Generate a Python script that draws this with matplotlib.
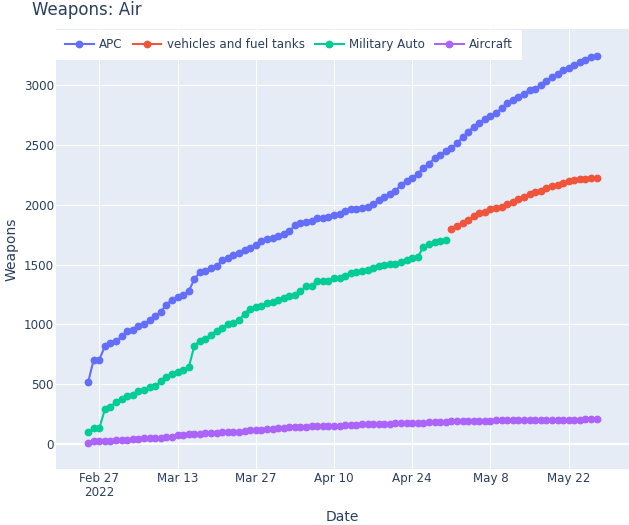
import matplotlib
matplotlib.use("Agg")
import matplotlib.pyplot as plt
import pandas as pd

# daily cumulative totals, Feb 25 - May 27 2022
start_day = "2022-02-25"

apc = [516, 706, 706, 816,
       846, 862, 900, 945, 956, 990, 1000, 1036, 1070, 1105, 1165, 1205, 1226, 1249, 1279, 1375,
       1438, 1448, 1470, 1487, 1535, 1556, 1578, 1597, 1625, 1640, 1664, 1693, 1710, 1723, 1735,
       1751, 1776, 1830, 1843, 1858, 1861, 1887, 1891, 1895, 1915, 1923, 1946, 1964, 1968, 1976,
       1982, 2002, 2041, 2063, 2088, 2118, 2162, 2200, 2225, 2258, 2308, 2342, 2389, 2418, 2445,
       2470, 2513, 2563, 2610, 2649, 2686, 2713, 2741, 2766, 2808, 2846, 2873, 2901, 2928, 2958,
       2967, 3004, 3036, 3063, 3093, 3123, 3141, 3166, 3194, 3213, 3235, 3246]

military_auto = [100, 130, 130, 291,
                 305, 355, 374, 404, 409, 447, 454, 474, 482, 526, 558, 585, 600, 617, 640, 819,
                 864, 879, 914, 947, 969, 1000, 1008, 1036, 1089, 1131, 1144, 1150, 1178, 1184, 1201,
                 1220, 1237, 1249, 1275, 1323, 1323, 1361, 1363, 1363, 1384, 1387, 1406, 1429, 1437,
                 1443, 1458, 1471, 1487, 1492, 1503, 1507, 1523, 1541, 1558, 1566, 1643, 1669, 1686,
                 1693, 1701]

# reported from May 1 on
vehicles_fuel = [1796, 1823, 1845, 1869, 1906, 1929, 1937, 1962, 1970, 1981, 2004, 2026, 2048,
                 2068, 2090, 2107, 2112, 2137, 2157, 2166, 2180, 2196, 2207, 2216, 2218, 2227, 2227]

aircraft = [10, 27, 27, 29,
            29, 30, 30, 33, 39, 44, 46, 48, 49, 49, 57, 58, 74, 77, 81, 84, 86, 93, 95, 96, 97, 97,
            99, 101, 108, 115, 117, 121, 123, 127, 131,
            135, 138, 143, 143, 143, 147, 148, 150, 150, 150, 154, 157, 158, 160, 163, 165, 167,
            167, 169, 170, 172, 173, 174, 177, 177, 179, 181, 183, 184, 186,
            189, 190, 191, 194, 194, 195, 196, 196, 197, 199, 199, 199, 200, 200, 200, 200, 200,
            200, 201, 201, 202, 203, 204, 204, 205, 206, 206]

x_ticks = ["2022-02-27", "2022-03-13", "2022-03-27", "2022-04-10", "2022-04-24", "2022-05-08", "2022-05-22"]
x_tick_labels = ["Feb 27\n2022", "Mar 13", "Mar 27", "Apr 10", "Apr 24", "May 8", "May 22"]
y_ticks = [0, 500, 1000, 1500, 2000, 2500, 3000]

dates = pd.date_range(start_day, periods=len(apc), freq="D")
auto_dates = dates[:len(military_auto)]
fuel_dates = dates[len(military_auto):len(military_auto) + len(vehicles_fuel)]

TEXT = "#2a3f5f"
plt.rcParams["font.family"] = ["DejaVu Sans"]

fig = plt.figure(figsize=(6.29, 5.25), dpi=100)
ax = fig.add_axes([56 / 629, 56 / 525, 1 - 56 / 629, (469 - 29.5) / 525])
ax.set_facecolor("#E5ECF6")

style = dict(marker="o", markersize=4.6, linewidth=1.5)
ax.plot(dates, apc, color="#636efa", label="APC", **style)
ax.plot(fuel_dates, vehicles_fuel, color="#EF553B", label="vehicles and fuel tanks", **style)
ax.plot(auto_dates, military_auto, color="#00cc96", label="Military Auto", **style)
ax.plot(dates, aircraft, color="#ab63fa", label="Aircraft", **style)

ax.set_xlim(pd.Timestamp("2022-02-19 06:00"), pd.Timestamp("2022-06-01 19:00"))
ax.set_ylim(-209, 3464)
ax.set_xticks(pd.to_datetime(x_ticks))
ax.set_xticklabels(x_tick_labels)
ax.set_yticks(y_ticks)
ax.set_yticklabels([str(v) for v in y_ticks])

ax.grid(True, color="white", linewidth=0.8)
ax.set_axisbelow(True)
ax.axhline(0, color="white", linewidth=1.6, zorder=0.5)
for s in ax.spines.values():
    s.set_visible(False)
ax.tick_params(length=0, labelsize=8.6, labelcolor=TEXT)
ax.tick_params(axis="x", pad=2.5)
ax.tick_params(axis="y", pad=1.5)
for lbl in ax.get_xticklabels():
    lbl.set_linespacing(1.05)

leg = ax.legend(ncol=4, loc="upper left", bbox_to_anchor=(0, 1), borderaxespad=0,
                frameon=True, fancybox=False, fontsize=8.6, handlelength=2.4,
                handletextpad=0.45, columnspacing=0.85, borderpad=0.75)
leg.get_frame().set_facecolor("white")
leg.get_frame().set_edgecolor("none")
leg.get_frame().set_alpha(1)
for t in leg.get_texts():
    t.set_color(TEXT)

fig.text(32 / 629, 1 - 15 / 525, "Weapons: Air", fontsize=12, color=TEXT, va="baseline", ha="left")
fig.text(12 / 629, 1 - 249 / 525, "Weapons", fontsize=10, color=TEXT, rotation=90, va="center", ha="center")
fig.text(342 / 629, 1 - 517 / 525, "Date", fontsize=10, color=TEXT, va="center", ha="center")

fig.savefig("out.png", dpi=100)
